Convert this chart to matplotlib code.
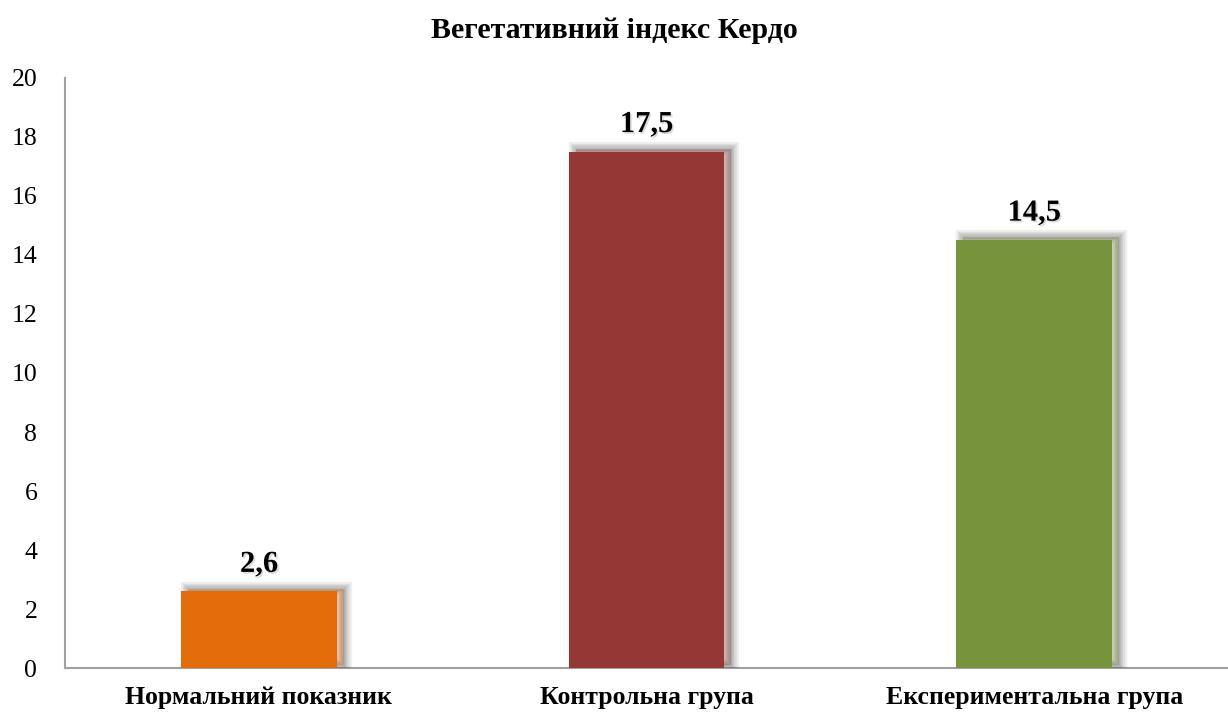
import matplotlib
matplotlib.use("Agg")
import matplotlib.pyplot as plt
import matplotlib.patheffects as pe

# Datos del gráfico
categorias = ["Нормальний показник", "Контрольна група", "Експериментальна група"]
valores = [2.6, 17.5, 14.5]
etiquetas = ["2,6", "17,5", "14,5"]
colores = ["#E36C0A", "#953735", "#77933C"]
ticks_y = list(range(0, 21, 2))

plt.rcParams["font.family"] = ["Liberation Serif", "DejaVu Serif"]

fig = plt.figure(figsize=(12.28, 7.2), dpi=100)
ax = fig.add_axes([0.053, 0.072, 0.947, 0.82])

# Sombra difusa: varios trazos grises semitransparentes, corridos a la derecha
sombra = [pe.Stroke(linewidth=w, foreground="#303030", alpha=0.08,
                    offset=(5, 2), joinstyle="miter")
          for w in (11, 8, 6, 4, 2)]
sombra.append(pe.Normal())
barras = ax.bar(range(len(categorias)), valores, width=0.402, color=colores,
                path_effects=sombra, zorder=3)

sombra_txt = [pe.SimplePatchShadow(offset=(1.2, -1.2), shadow_rgbFace="#707070", alpha=0.25),
              pe.Normal()]
for b, t in zip(barras, etiquetas):
    ax.annotate(t, (b.get_x() + b.get_width() / 2, b.get_height()),
                xytext=(0, 9), textcoords="offset points",
                ha="center", va="bottom", fontsize=22, fontweight="bold",
                path_effects=sombra_txt)

ax.set_ylim(0, 20)
ax.set_xlim(-0.5, 2.5)
ax.set_yticks(ticks_y)
ax.set_xticks(range(len(categorias)))
ax.set_xticklabels(categorias, fontsize=18.5, fontweight="bold")
ax.tick_params(axis="y", labelsize=18.5, length=0, pad=20)
ax.tick_params(axis="x", length=0, pad=13)

for s in ("top", "right"):
    ax.spines[s].set_visible(False)
for s in ("left", "bottom"):
    ax.spines[s].set_color("#A0A0A0")
    ax.spines[s].set_linewidth(1.5)

fig.text(0.5, 0.958, "Вегетативний індекс Кердо", ha="center", va="center",
         fontsize=21.5, fontweight="bold")

fig.savefig("out.png", dpi=100, facecolor="white")
